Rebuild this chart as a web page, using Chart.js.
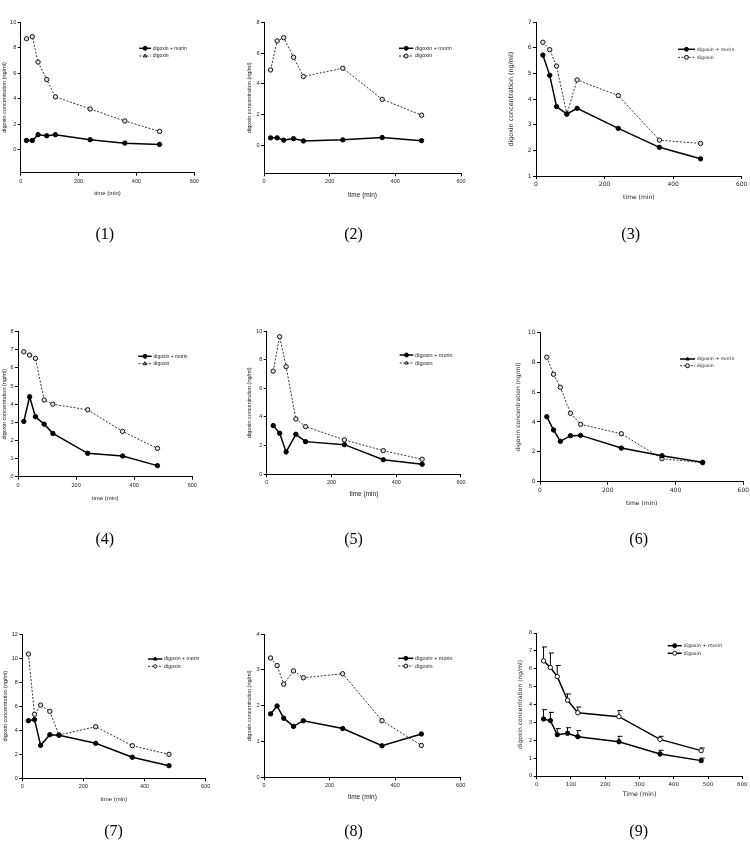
<!DOCTYPE html>
<html><head><meta charset="utf-8">
<script src="https://cdn.jsdelivr.net/npm/chart.js@4.4.1/dist/chart.umd.min.js"></script>
<style>
html,body{margin:0;padding:0;background:#fff;width:750px;height:858px;overflow:hidden;position:relative}
canvas{position:absolute;left:0;top:0}
.lbl{position:absolute;font-family:"Liberation Serif","DejaVu Serif",serif;font-size:16px;color:#000;transform:translate(-50%,-50%);white-space:nowrap;line-height:1}
</style></head><body>
<script>
// ---------------- data ----------------
const times = [20, 40, 60, 90, 120, 240, 360, 480];
const seriesNames = ['digoxin + morin', 'digoxin'];
const panelLabels = ['(1)', '(2)', '(3)', '(4)', '(5)', '(6)', '(7)', '(8)', '(9)'];
const yTitle = 'digoxin concentration (ng/ml)';
const xTitles = ['time (min)', 'time (min)', 'time (min)', 'time (min)', 'time (min)', 'time (min)', 'time (min)', 'time (min)', 'Time (min)'];

const morin1 = [0.73, 0.73, 1.18, 1.10, 1.18, 0.79, 0.52, 0.42];
const digoxin1 = [8.71, 8.87, 6.88, 5.51, 4.15, 3.20, 2.26, 1.44];
const morin2 = [0.50, 0.50, 0.35, 0.45, 0.30, 0.37, 0.52, 0.32];
const digoxin2 = [4.91, 6.79, 7.00, 5.73, 4.48, 5.02, 3.00, 1.97];
const morin3 = [5.72, 4.93, 3.71, 3.42, 3.64, 2.86, 2.12, 1.67];
const digoxin3 = [6.22, 5.93, 5.29, 3.42, 4.75, 4.14, 2.40, 2.27];
const morin4 = [3.05, 4.41, 3.31, 2.90, 2.39, 1.29, 1.14, 0.61];
const digoxin4 = [6.89, 6.71, 6.53, 4.23, 4.00, 3.69, 2.50, 1.56];
const morin5 = [3.40, 2.86, 1.56, 2.79, 2.28, 2.07, 1.02, 0.70];
const digoxin5 = [7.20, 9.60, 7.51, 3.86, 3.33, 2.40, 1.65, 1.05];
const morin6 = [4.35, 3.46, 2.70, 3.08, 3.10, 2.25, 1.74, 1.30];
const digoxin6 = [8.33, 7.19, 6.32, 4.58, 3.84, 3.21, 1.54, 1.27];
const morin7 = [4.79, 4.88, 2.74, 3.63, 3.58, 2.91, 1.75, 1.05];
const digoxin7 = [10.33, 5.32, 6.09, 5.57, 3.60, 4.29, 2.71, 1.99];
const morin8 = [1.77, 1.99, 1.65, 1.42, 1.58, 1.36, 0.88, 1.21];
const digoxin8 = [3.33, 3.12, 2.60, 2.97, 2.78, 2.89, 1.58, 0.89];
const morin9 = [3.19, 3.10, 2.31, 2.39, 2.20, 1.92, 1.23, 0.86];
const morin9Err = [0.52, 0.46, 0.34, 0.31, 0.34, 0.30, 0.21, 0.14];
const digoxin9 = [6.44, 6.07, 5.56, 4.24, 3.54, 3.32, 2.05, 1.42];
const digoxin9Err = [0.78, 0.81, 0.62, 0.35, 0.32, 0.34, 0.17, 0.15];

const morinSeries = [morin1, morin2, morin3, morin4, morin5, morin6, morin7, morin8, morin9];
const digoxinSeries = [digoxin1, digoxin2, digoxin3, digoxin4, digoxin5, digoxin6, digoxin7, digoxin8, digoxin9];
const yRanges = [[-1.8, 10, 2], [-1.8, 8, 2], [1, 7, 1], [0, 8, 1], [0, 10, 2], [0, 10, 2], [0, 12, 2], [0, 4, 1], [0, 8, 1]];
const xSteps = [200, 200, 200, 200, 200, 200, 200, 200, 100];

// ---------------- layout / style ----------------
const ARIAL = '"Liberation Sans", Arial, sans-serif';
const VERD = '"DejaVu Sans", Verdana, sans-serif';
const layoutCfg = [
  {L:20.7, R:194.3, T:22.3, B:172.7, yt:4.7,  xt:193.3, fam:ARIAL, tick:5.5, title:5.5, xfs:6,   leg:{dx:118.6, dy:26,   gap:7.7, len:11.7, fs:5,   mk:['circle','triangle']}, labX:104.8, labY:234},
  {L:264,  R:461,   T:22.3, B:173.3, yt:249.5,xt:195,   fam:ARIAL, tick:5.5, title:5.5, xfs:6.5, leg:{dx:135,   dy:26,   gap:7.7, len:14.3, fs:5.4, mk:['circle','circle']},   labX:353.5, labY:234},
  {L:536,  R:741.7, T:22.3, B:176,   yt:511.7,xt:197.3, fam:VERD,  tick:6,   title:6.4, xfs:6,   leg:{dx:142,   dy:27,   gap:8,   len:17,   fs:4.7, mk:['circle','circle']},   labX:630.7, labY:234},
  {L:18,   R:192.3, T:331.7,B:476.7, yt:4,    xt:498.3, fam:ARIAL, tick:5.5, title:5.5, xfs:6,   leg:{dx:120.3, dy:24.6, gap:7.4, len:13.4, fs:5,   mk:['circle','triangle']}, labX:104.8, labY:539},
  {L:266.7,R:461,   T:331,  B:474.3, yt:249.5,xt:494,   fam:ARIAL, tick:5.5, title:5.5, xfs:6.5, leg:{dx:133,   dy:24,   gap:8,   len:13.6, fs:5.5, mk:['circle','triangle']}, labX:353.5, labY:539},
  {L:540,  R:743.3, T:332.3,B:481.7, yt:518.7,xt:503.3, fam:VERD,  tick:6,   title:6,   xfs:6,   leg:{dx:140,   dy:26.7, gap:6.7, len:15,   fs:4.7, mk:['triangle','circle']}, labX:638.7, labY:539},
  {L:22.3, R:205.7, T:634,  B:778.3, yt:5.7,  xt:799,   fam:ARIAL, tick:5.5, title:5.5, xfs:6,   leg:{dx:125.7, dy:25,   gap:7.3, len:14.3, fs:5.2, mk:['triangle','rectRot']},labX:113.5, labY:831},
  {L:264,  R:460.7, T:634,  B:777.3, yt:249.5,xt:797.3, fam:ARIAL, tick:5.5, title:5.5, xfs:6.5, leg:{dx:134.3, dy:24.3, gap:7.7, len:15,   fs:5.5, mk:['circle','circle']},   labX:353.5, labY:831},
  {L:536.7,R:742.3, T:633,  B:776,   yt:520.7,xt:794,   fam:VERD,  tick:5.5, title:6,   xfs:6.2, leg:{dx:131,   dy:12.7, gap:7.6, len:14,   fs:4.8, mk:['circle','circle']},   labX:638.7, labY:831}
];
const CW = 800, CH = 858;

// ---------------- plugins ----------------
const insetLegend = {
  id: 'insetLegend',
  afterDatasetsDraw(chart, args, o) {
    if (!o || !o.len) return;
    const ctx = chart.ctx, a = chart.chartArea;
    const x0 = a.left + o.dx, y0 = a.top + o.dy;
    chart.data.datasets.forEach((ds, i) => {
      const y = y0 + i * o.gap;
      ctx.save();
      ctx.strokeStyle = ds.borderColor; ctx.lineWidth = ds.borderWidth;
      ctx.setLineDash(ds.borderDash || []);
      ctx.beginPath(); ctx.moveTo(x0, y); ctx.lineTo(x0 + o.len, y); ctx.stroke();
      ctx.setLineDash([]);
      ctx.fillStyle = ds.pointBackgroundColor; ctx.strokeStyle = ds.pointBorderColor;
      ctx.lineWidth = ds.pointBorderWidth;
      Chart.helpers.drawPoint(ctx, {pointStyle: o.mk[i], radius: ds.pointRadius * 0.9, borderWidth: ds.pointBorderWidth, rotation: 0}, x0 + o.len / 2, y);
      ctx.fillStyle = '#222';
      ctx.font = o.fs + 'px ' + o.fam;
      ctx.textBaseline = 'middle'; ctx.textAlign = 'left';
      ctx.fillText(ds.label, x0 + o.len + 1.8, y);
      ctx.restore();
    });
  }
};
const errorBars = {
  id: 'errorBars',
  beforeDatasetsDraw(chart) {
    const ctx = chart.ctx, ys = chart.scales.y;
    chart.data.datasets.forEach((ds, i) => {
      if (!ds.errUp) return;
      const meta = chart.getDatasetMeta(i);
      ctx.save();
      ctx.strokeStyle = '#000'; ctx.lineWidth = 1;
      meta.data.forEach((pt, k) => {
        const v = ds.data[k].y, e = ds.errUp[k];
        const yTop = ys.getPixelForValue(v + e);
        ctx.beginPath();
        ctx.moveTo(pt.x, pt.y); ctx.lineTo(pt.x, yTop);
        ctx.moveTo(pt.x - 1.5, yTop); ctx.lineTo(pt.x + 3.5, yTop);
        ctx.stroke();
      });
      ctx.restore();
    });
  }
};

// ---------------- build ----------------
layoutCfg.forEach((c, p) => {
  const cv = document.createElement('canvas');
  cv.width = CW; cv.height = CH;
  cv.style.width = CW + 'px'; cv.style.height = CH + 'px';
  document.body.appendChild(cv);
  const W = c.L - c.yt + 0.6 * c.title;
  const H = c.xt + 0.6 * c.xfs - c.B;
  const [yMin, yMax, yStep] = yRanges[p];
  const solidDig = p === 8;
  const mk = (arr) => arr.map((v, k) => ({x: times[k], y: v}));
  const datasets = [
    {label: seriesNames[0], data: mk(morinSeries[p]), borderColor: '#000', borderWidth: 1.5,
     pointRadius: 2.2, pointBackgroundColor: '#000', pointBorderColor: '#000', pointBorderWidth: 1,
     pointStyle: 'circle', tension: 0, errUp: p === 8 ? morin9Err : null},
    {label: seriesNames[1], data: mk(digoxinSeries[p]), borderColor: solidDig ? '#000' : '#333', borderWidth: solidDig ? 1.5 : 1,
     borderDash: solidDig ? [] : [2, 1.6],
     pointRadius: 2.2, pointBackgroundColor: solidDig ? '#fff' : '#ddd', pointBorderColor: '#111', pointBorderWidth: 1,
     pointStyle: 'circle', tension: 0, errUp: p === 8 ? digoxin9Err : null}
  ];
  const tickFont = {family: c.fam, size: c.tick};
  new Chart(cv, {
    type: 'line',
    data: {datasets},
    plugins: [insetLegend, errorBars],
    options: {
      responsive: false, animation: false, devicePixelRatio: 1,
      events: [],
      layout: {padding: {left: c.L - W, right: CW - c.R, top: c.T, bottom: CH - c.B - H}},
      plugins: {
        legend: {display: false}, tooltip: {enabled: false},
        insetLegend: Object.assign({fam: c.fam}, c.leg)
      },
      scales: {
        x: {
          type: 'linear', min: 0, max: 600, position: 'bottom',
          ticks: {stepSize: xSteps[p], font: tickFont, color: '#222', padding: 2, maxRotation: 0, autoSkip: false},
          grid: {display: true, drawOnChartArea: false, drawTicks: true, tickLength: 3, color: '#000', lineWidth: 1},
          border: {display: true, color: '#000', width: 1},
          title: {display: true, text: xTitles[p], font: {family: c.fam, size: c.xfs}, color: '#222', padding: 0},
          afterFit: (s) => { s.height = H; }
        },
        y: {
          type: 'linear', min: yMin, max: yMax, position: 'left',
          ticks: {stepSize: yStep, font: tickFont, color: '#222', padding: 1.5, autoSkip: false},
          afterBuildTicks: (s) => { s.ticks = s.ticks.filter(t => t.value >= Math.max(0, yMin) - 1e-9); },
          grid: {display: true, drawOnChartArea: false, drawTicks: true, tickLength: 3, color: '#000', lineWidth: 1},
          border: {display: true, color: '#000', width: 1},
          title: {display: true, text: yTitle, font: {family: c.fam, size: c.title}, color: '#222', padding: 0},
          afterFit: (s) => { s.width = W; }
        }
      }
    }
  });
  const d = document.createElement('div');
  d.className = 'lbl'; d.textContent = panelLabels[p];
  d.style.left = c.labX + 'px'; d.style.top = c.labY + 'px';
  document.body.appendChild(d);
});
</script>
</body></html>
